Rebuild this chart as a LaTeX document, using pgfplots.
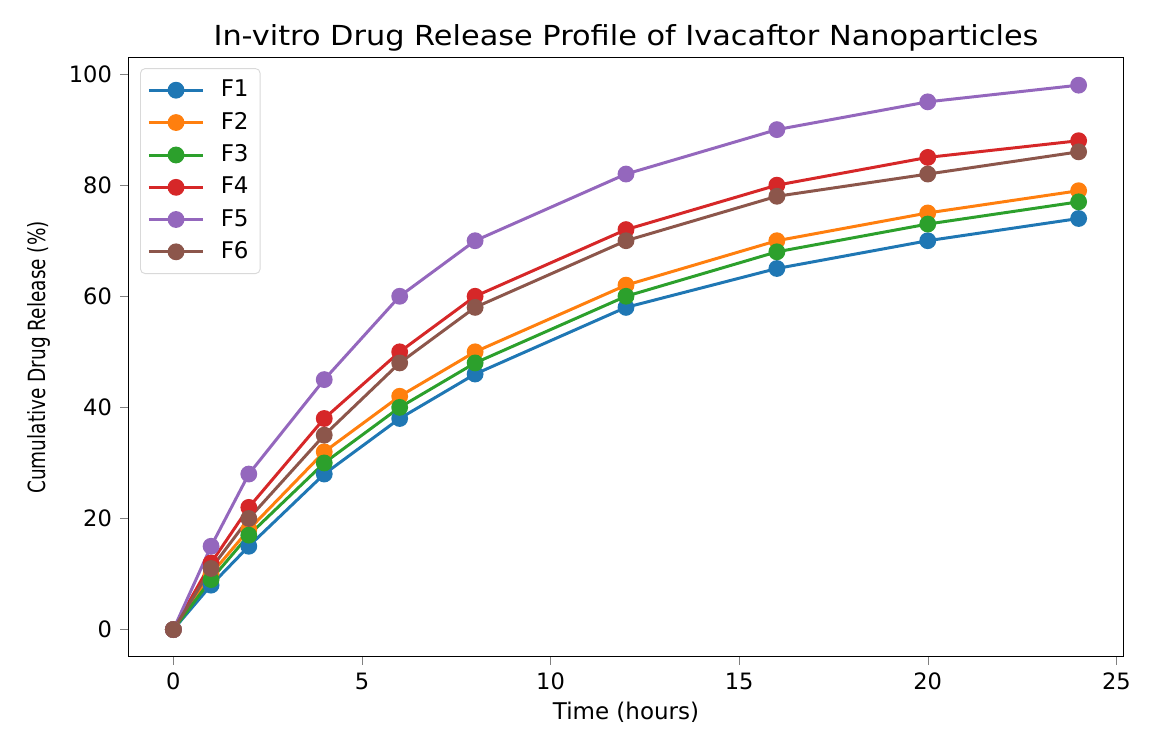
\documentclass[border=0pt]{standalone}
\usepackage{pgfplots}
\pgfplotsset{compat=1.18}
\usepackage{fontspec}
\setmainfont{DejaVu Sans}
\newfontfamily\ylfont{DejaVu Sans}[FakeStretch=0.78]
\newfontfamily\ttlfont{DejaVu Sans}[FakeStretch=1.1]
\definecolor{c1}{HTML}{1F77B4}
\definecolor{c2}{HTML}{FF7F0E}
\definecolor{c3}{HTML}{2CA02C}
\definecolor{c4}{HTML}{D62728}
\definecolor{c5}{HTML}{9467BD}
\definecolor{c6}{HTML}{8C564B}
\pgfplotstableread{
t F1 F2 F3 F4 F5 F6
0 0 0 0 0 0 0
1 8 10 9 12 15 11
2 15 18 17 22 28 20
4 28 32 30 38 45 35
6 38 42 40 50 60 48
8 46 50 48 60 70 58
12 58 62 60 72 82 70
16 65 70 68 80 90 78
20 70 75 73 85 95 82
24 74 79 77 88 98 86
}\data
\begin{document}
\begin{tikzpicture}
\begin{axis}[
  scale only axis,
  width=433pt, height=260.4pt,
  xmin=-1.2, xmax=25.2, ymin=-4.9, ymax=102.9,
  xtick={0,5,10,15,20,25}, ytick={0,20,40,60,80,100},
  /pgf/number format/assume math mode=true,
  tick label style={font=\fontsize{9.8}{12}\selectfont},
  xlabel style={font=\fontsize{10}{12}\selectfont, yshift=1.5pt},
  ylabel style={font=\ylfont\fontsize{10.3}{12}\selectfont, yshift=1pt},
  tick align=outside, tick pos=left,
  major tick length=3.5pt,
  xlabel={Time (hours)}, ylabel={Cumulative Drug Release (\%)},
  title={In-vitro Drug Release Profile of Ivacaftor Nanoparticles},
  title style={font=\ttlfont\fontsize{12}{14}\selectfont, yshift=-6.5pt},
  legend style={font=\fontsize{10}{12}\selectfont, draw=black!15, rounded corners=2pt,
    row sep=1.2pt, at={(0.012,0.983)}, anchor=north west, inner xsep=3pt, inner ysep=3pt,
    /tikz/every odd column/.append style={column sep=5pt}},
  legend cell align=left,
  legend image code/.code={\draw[#1] (0pt,0pt) -- (23.6pt,0pt); \draw[#1] plot coordinates {(11.8pt,0pt)};},
  every axis plot/.append style={line width=1.3pt, mark=*, mark size=3.0pt, mark options={solid}},
]
\addplot[c1, mark options={fill=c1}] table[x=t,y=F1]{\data}; \addlegendentry{F1}
\addplot[c2, mark options={fill=c2}] table[x=t,y=F2]{\data}; \addlegendentry{F2}
\addplot[c3, mark options={fill=c3}] table[x=t,y=F3]{\data}; \addlegendentry{F3}
\addplot[c4, mark options={fill=c4}] table[x=t,y=F4]{\data}; \addlegendentry{F4}
\addplot[c5, mark options={fill=c5}] table[x=t,y=F5]{\data}; \addlegendentry{F5}
\addplot[c6, mark options={fill=c6}] table[x=t,y=F6]{\data}; \addlegendentry{F6}
\end{axis}
\path[use as bounding box] ([shift={(-55.7pt,-39.1pt)}]current axis.south west) rectangle ([shift={(15.7pt,25.2pt)}]current axis.north east);
\end{tikzpicture}
\end{document}
